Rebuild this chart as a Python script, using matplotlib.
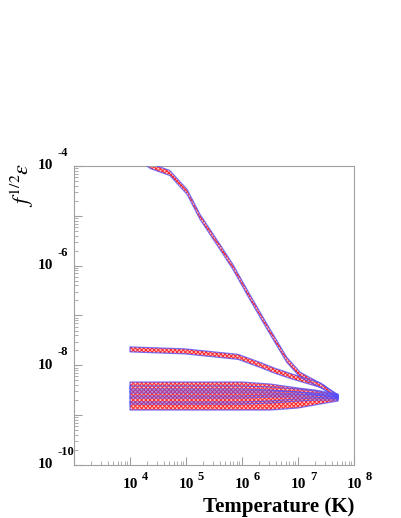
import numpy as np
import matplotlib
matplotlib.use("Agg")
import matplotlib.pyplot as plt
from matplotlib import transforms
from matplotlib.ticker import LogLocator, NullFormatter

plt.rcParams['mathtext.fontset'] = 'stix'
plt.rcParams['hatch.linewidth'] = 0.7

# band data: log10(T) and log10 of lower / upper limit of f^1/2 eps
logT_steep = [4.20, 4.36, 4.71, 5.02, 5.25, 5.61, 5.84, 6.14, 6.45, 6.80, 7.04, 7.45, 7.71]
hi_steep = [-3.80, -3.95, -4.09, -4.47, -4.97, -5.58, -5.98, -6.58, -7.18, -7.84, -8.14, -8.39, -8.61]
lo_steep = [-3.90, -4.05, -4.19, -4.57, -5.07, -5.68, -6.08, -6.68, -7.28, -7.94, -8.24, -8.47, -8.66]

logT_mid = [4.00, 4.98, 5.93, 6.32, 6.59, 6.91, 7.39, 7.714]
hi_mid = [-7.63, -7.67, -7.78, -7.94, -8.06, -8.18, -8.35, -8.59]
lo_mid = [-7.73, -7.77, -7.88, -8.04, -8.16, -8.28, -8.44, -8.64]

logT_low = [4.0, 5.0, 6.0, 6.5, 7.0, 7.3, 7.5, 7.714]
hi_a = [-8.335, -8.335, -8.335, -8.375, -8.455, -8.495, -8.535, -8.576]
lo_a = [-8.475, -8.475, -8.475, -8.495, -8.535, -8.576, -8.596, -8.636]
hi_b = [-8.415, -8.415, -8.415, -8.435, -8.475, -8.515, -8.556, -8.596]
lo_b = [-8.556, -8.556, -8.556, -8.556, -8.576, -8.596, -8.616, -8.656]
hi_c = [-8.515, -8.515, -8.515, -8.515, -8.535, -8.556, -8.576, -8.616]
lo_c = [-8.656, -8.656, -8.656, -8.636, -8.636, -8.636, -8.656, -8.676]
hi_d = [-8.616, -8.616, -8.616, -8.596, -8.596, -8.596, -8.616, -8.636]
lo_d = [-8.776, -8.776, -8.776, -8.756, -8.716, -8.696, -8.696, -8.696]
hi_e = [-8.736, -8.736, -8.736, -8.716, -8.676, -8.656, -8.656, -8.656]
lo_e = [-8.897, -8.897, -8.897, -8.897, -8.856, -8.796, -8.756, -8.716]

x_label_exps = [4, 5, 6, 7, 8]
y_label_exps = [-4, -6, -8, -10]


def band(ax, logT, lo, hi):
    T = 10 ** np.array(logT)
    ax.fill_between(T, 10 ** np.array(lo), 10 ** np.array(hi), facecolor="#ffc4c4",
                    edgecolor="#ff2a2a", hatch="xxxxxxxx", linewidth=0, zorder=2)
    ax.fill_between(T, 10 ** np.array(lo), 10 ** np.array(hi), facecolor="none",
                    edgecolor="#5050ff", linewidth=0.9, alpha=0.75, zorder=3)


fig = plt.figure(figsize=(4.01, 5.18), dpi=100)
ax = fig.add_axes([74 / 401, 1 - 465 / 518, 280 / 401, 299 / 518])

band(ax, logT_steep, lo_steep, hi_steep)
band(ax, logT_mid, lo_mid, hi_mid)
band(ax, logT_low, lo_e, hi_e)
band(ax, logT_low, lo_d, hi_d)
band(ax, logT_low, lo_c, hi_c)
band(ax, logT_low, lo_b, hi_b)
band(ax, logT_low, lo_a, hi_a)

ax.set_xscale("log")
ax.set_yscale("log")
ax.set_xlim(1e3, 1e8)
ax.set_ylim(1e-10, 1e-4)

gray = "#a0a0a0"
for s in ax.spines.values():
    s.set_color(gray)
    s.set_linewidth(0.8)
ax.xaxis.set_major_locator(LogLocator(base=10, numticks=20))
ax.xaxis.set_minor_locator(LogLocator(base=10, subs=np.arange(2, 10), numticks=20))
ax.yaxis.set_major_locator(LogLocator(base=10, numticks=20))
ax.yaxis.set_minor_locator(LogLocator(base=10, subs=np.arange(2, 10), numticks=20))
ax.xaxis.set_major_formatter(NullFormatter())
ax.xaxis.set_minor_formatter(NullFormatter())
ax.yaxis.set_major_formatter(NullFormatter())
ax.yaxis.set_minor_formatter(NullFormatter())
ax.tick_params(which="both", direction="in", color=gray, top=False, right=False)
ax.tick_params(which="major", length=6, width=0.8)
ax.tick_params(which="minor", length=3, width=0.6)

# ROOT-style tick labels: "10" with an offset exponent
lab = dict(family="Liberation Serif", weight="bold", color="black")
xt = ax.get_xaxis_transform()
for e in x_label_exps:
    t0 = xt + transforms.ScaledTranslation(0, -0.19, fig.dpi_scale_trans)
    ax.text(10.0 ** e, 0, "10", transform=t0, ha="center", va="center", fontsize=11, **lab)
    t1 = xt + transforms.ScaledTranslation(0.12, -0.12, fig.dpi_scale_trans)
    ax.text(10.0 ** e, 0, str(e), transform=t1, ha="left", va="center", fontsize=9, **lab)
yt = ax.get_yaxis_transform()
for e in y_label_exps:
    t0 = yt + transforms.ScaledTranslation(-0.21, 0, fig.dpi_scale_trans)
    ax.text(0, 10.0 ** e, "10", transform=t0, ha="right", va="center", fontsize=11, **lab)
    t1 = yt + transforms.ScaledTranslation(-0.16, 0.13, fig.dpi_scale_trans)
    ax.text(0, 10.0 ** e, str(e), transform=t1, ha="left", va="center", fontsize=9, **lab)

fig.text(354 / 401, 1 - 507 / 518, "Temperature (K)", ha="right", va="center",
         fontsize=15, family="Liberation Serif", weight="bold")
fig.text(22 / 401, 1 - 185 / 518, r"$f^{1/2}\epsilon$", ha="center", va="center",
         rotation=90, fontsize=16)

fig.savefig("out.png", dpi=100)
